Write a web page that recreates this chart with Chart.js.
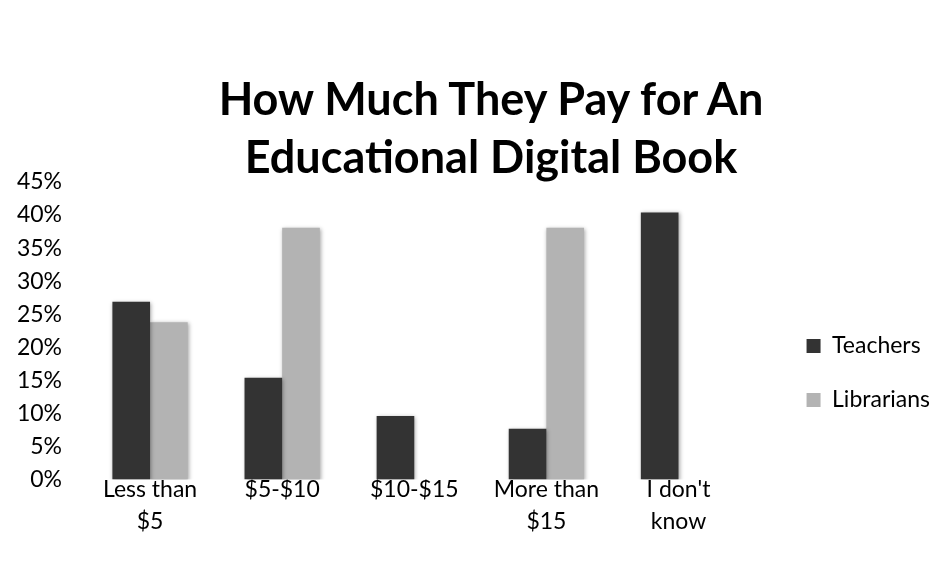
<!DOCTYPE html>
<html>
<head>
<meta charset="utf-8">
<script src="https://cdn.jsdelivr.net/npm/chart.js@4.4.1/dist/chart.umd.min.js"></script>
<style>
  html, body { margin: 0; padding: 0; background: #fff; }
  #wrap { position: relative; width: 937px; height: 561px; }
  #titulek {
    position: absolute; left: 0; top: 69px; width: 982px;
    text-align: center; font: bold 45px Lato, "Open Sans", sans-serif;
    line-height: 58px; color: #000;
  }
  canvas { position: absolute; left: 0; top: 0; }
</style>
</head>
<body>
<div id="wrap">
  <canvas id="graf" width="937" height="561"></canvas>
  <div id="titulek">How Much They Pay for An<br>Educational Digital Book</div>
</div>
<script>
// kategorie na ose X (víceřádkové popisky)
const KATEGORIE = [["Less than", "$5"], ["$5-$10"], ["$10-$15"], ["More than", "$15"], ["I don't", "know"]];
// podíly v procentech
const UCITELE = [26.9, 15.4, 9.6, 7.7, 40.4];
const KNIHOVNICI = [23.8, 38.1, 0, 38.1, 0];
const SERIE = ["Teachers", "Librarians"];

const FONT = "Lato, 'Open Sans', sans-serif";

// jemný stín pod sloupci jako v originále
const stin = {
  id: "stin",
  beforeDatasetsDraw(chart) {
    const c = chart.ctx;
    c.save();
    c.shadowColor = "rgba(0,0,0,0.35)";
    c.shadowBlur = 4;
    c.shadowOffsetX = 1;
    c.shadowOffsetY = 1;
  },
  afterDatasetsDraw(chart) { chart.ctx.restore(); }
};

// posun legendy doprava a dolů
const posunLegendy = {
  id: "posunLegendy",
  afterLayout(chart) {
    const l = chart.legend;
    if (!l) return;
    l.left += 31; l.right += 31;
    l.top += 16; l.bottom += 16;
  }
};

new Chart(document.getElementById("graf"), {
  type: "bar",
  data: {
    labels: KATEGORIE,
    datasets: [
      { label: SERIE[0], data: UCITELE, backgroundColor: "#333333" },
      { label: SERIE[1], data: KNIHOVNICI, backgroundColor: "#b3b3b3" }
    ]
  },
  options: {
    responsive: false,
    animation: false,
    layout: { padding: { top: 182, left: 14, right: 28, bottom: 29 } },
    datasets: { bar: { barPercentage: 1, categoryPercentage: 0.57 } },
    plugins: {
      title: { display: false },
      tooltip: { enabled: false },
      legend: {
        position: "right",
        labels: {
          boxWidth: 14, boxHeight: 14, padding: 31,
          color: "#000", font: { family: FONT, size: 23 }
        }
      }
    },
    scales: {
      x: {
        grid: { display: false, drawTicks: false },
        border: { display: false },
        ticks: { color: "#000", padding: -6, maxRotation: 0, font: { family: FONT, size: 23, lineHeight: 1.4 } }
      },
      y: {
        min: 0, max: 45,
        grid: { display: false, drawTicks: false },
        border: { display: false },
        afterFit(s) { s.width = 70; },
        ticks: {
          stepSize: 5, color: "#000", padding: 22,
          font: { family: FONT, size: 23 },
          callback: v => v + "%"
        }
      }
    }
  },
  plugins: [stin, posunLegendy]
});
</script>
</body>
</html>
